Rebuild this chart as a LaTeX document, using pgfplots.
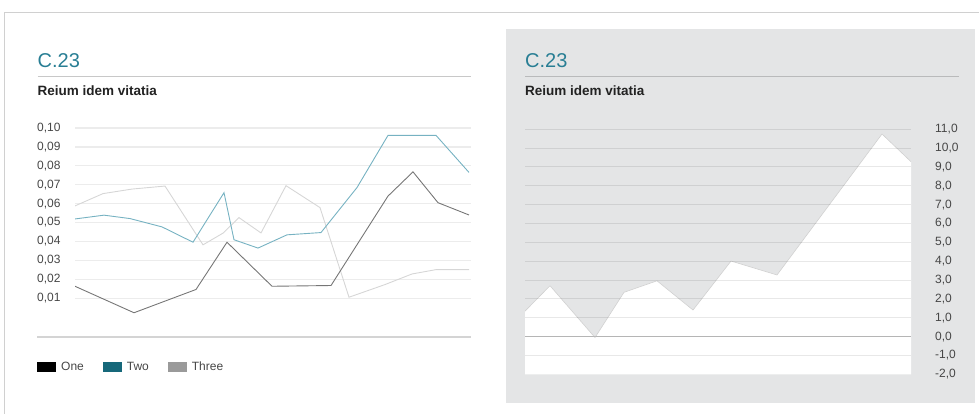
\documentclass[border=0pt]{standalone}
\usepackage{pgfplots}
\pgfplotsset{compat=1.18}
\usepackage{fontspec}
\setmainfont{Liberation Sans}

\definecolor{framegray}{RGB}{208,208,208}
\definecolor{panel}{RGB}{228,229,230}
\definecolor{titleteal}{RGB}{40,126,148}
\definecolor{titleline}{RGB}{200,200,200}
\definecolor{titlelinedark}{RGB}{185,186,187}
\definecolor{subtitle}{RGB}{34,34,34}
\definecolor{ticktext}{RGB}{70,70,70}
\definecolor{gridgray}{RGB}{236,236,236}
\definecolor{basegray}{RGB}{212,212,212}
\definecolor{lineOne}{RGB}{118,118,118}
\definecolor{lineTwo}{RGB}{118,178,194}
\definecolor{lineThree}{RGB}{214,214,214}
\definecolor{swTwo}{RGB}{22,104,122}
\definecolor{swThree}{RGB}{154,154,154}
\definecolor{areaedge}{RGB}{208,208,208}
\definecolor{zeroline}{RGB}{200,200,200}

\begin{document}
\begin{tikzpicture}[x=1pt,y=1pt]
\path[use as bounding box] (0,0) rectangle (979,414);

% outer frame and grey panel
\draw[framegray, line width=1.2pt] (4.3,0) -- (4.3,401.3) -- (979,401.3);
\fill[panel] (506,11) rectangle (975,384.7);

% headings, left
\node[anchor=base west, inner sep=0pt, font=\fontsize{20}{24}\selectfont, text=titleteal] at (37.5,346.3) {C.23};
\draw[titleline, line width=1pt] (37.5,337.5) -- (471,337.5);
\node[anchor=base west, inner sep=0pt, font=\bfseries\fontsize{13.5}{16}\selectfont, text=subtitle] at (37.5,318.5) {Reium idem vitatia};

% headings, right
\node[anchor=base west, inner sep=0pt, font=\fontsize{20}{24}\selectfont, text=titleteal] at (525,346.3) {C.23};
\draw[titlelinedark, line width=1pt] (525,337.5) -- (959,337.5);
\node[anchor=base west, inner sep=0pt, font=\bfseries\fontsize{13.5}{16}\selectfont, text=subtitle] at (525,318.5) {Reium idem vitatia};

% base line under left chart
\draw[basegray, line width=1.7pt] (37,77.3) -- (471,77.3);

% left chart
\begin{axis}[
  at={(75pt,78pt)}, anchor=south west,
  scale only axis, width=396pt, height=208pt,
  xmin=75, xmax=471, ymin=-0.01, ymax=0.10,
  axis line style={draw=none},
  tick style={draw=none},
  xtick=\empty,
  ytick={0.01,0.02,0.03,0.04,0.05,0.06,0.07,0.08,0.09,0.10},
  yticklabels={{0,01},{0,02},{0,03},{0,04},{0,05},{0,06},{0,07},{0,08},{0,09},{0,10}},
  yticklabel style={anchor=west, inner sep=0pt, xshift=-38pt,
    font=\fontsize{12}{14}\selectfont, text=ticktext},
  ymajorgrids,
  grid style={gridgray, line width=1.2pt},
  legend image code/.code={\fill[#1, draw=none] (0pt,-4.8pt) rectangle (19pt,4.8pt);},
  legend columns=3,
  legend style={at={(-0.096,-0.149)}, anchor=west, draw=none, fill=none,
    inner sep=0pt, font=\fontsize{12}{14}\selectfont, text=ticktext,
    /tikz/every odd column/.append style={column sep=3pt},
    /tikz/every even column/.append style={column sep=17pt}},
]
\addplot[forget plot, lineThree, line width=0.9pt] coordinates {
  (75,0.0588) (103,0.0653) (132,0.0677) (165,0.0693) (203,0.0382)
  (223,0.0444) (239,0.0526) (261,0.0445) (286,0.0695) (320,0.0579)
  (349,0.0105) (385,0.0172) (412,0.0228) (436,0.0251) (469,0.0251)};
\addplot[forget plot, lineOne, line width=0.9pt] coordinates {
  (75,0.0163) (134,0.0023) (196,0.0146) (227,0.0396) (272,0.0163)
  (331,0.0167) (388,0.0640) (413,0.0768) (438,0.0605) (469,0.0540)};
\addplot[forget plot, lineTwo, line width=0.9pt] coordinates {
  (75,0.0519) (104,0.0539) (130,0.0521) (162,0.0477) (193,0.0396)
  (224,0.0658) (234,0.0409) (258,0.0365) (287,0.0435) (321,0.0447)
  (357,0.0685) (388,0.0961) (436,0.0961) (469,0.0765)};
\addlegendimage{fill=black}
\addlegendentry{One}
\addlegendimage{fill=swTwo}
\addlegendentry{Two}
\addlegendimage{fill=swThree}
\addlegendentry{Three}
\end{axis}

% right chart
\begin{axis}[
  at={(525pt,39.7pt)}, anchor=south west,
  scale only axis, width=386pt, height=245pt,
  xmin=525, xmax=911, ymin=-2, ymax=11,
  axis on top,
  axis line style={draw=none},
  tick style={draw=none},
  xtick=\empty,
  ytick={-1,0,1,2,3,4,5,6,7,8,9,10,11},
  yticklabels={{-1,0},{0,0},{1,0},{2,0},{3,0},{4,0},{5,0},{6,0},{7,0},{8,0},{9,0},{10,0},{11,0}},
  extra y ticks={-2},
  extra y tick labels={-2{,}0},
  extra y tick style={grid=none},
  yticklabel pos=right,
  yticklabel style={anchor=west, inner sep=0pt, xshift=24pt,
    font=\fontsize{12}{14}\selectfont, text=ticktext},
  ymajorgrids,
  grid style={black, opacity=0.09, line width=1pt},
]
\addplot[forget plot, fill=white, draw=none] coordinates {
  (525,-2) (525,1.35) (550,2.70) (595,-0.05) (624,2.35) (657,2.96)
  (693,1.41) (731,4.01) (777,3.27) (882,10.75) (911,9.28) (911,-2)} -- cycle;
\addplot[forget plot, zeroline, line width=1.5pt] coordinates {(525,0) (911,0)};
\addplot[forget plot, areaedge, line width=0.6pt] coordinates {
  (525,1.35) (550,2.70) (595,-0.05) (624,2.35) (657,2.96)
  (693,1.41) (731,4.01) (777,3.27) (882,10.75) (911,9.28)};
\end{axis}
\end{tikzpicture}
\end{document}
